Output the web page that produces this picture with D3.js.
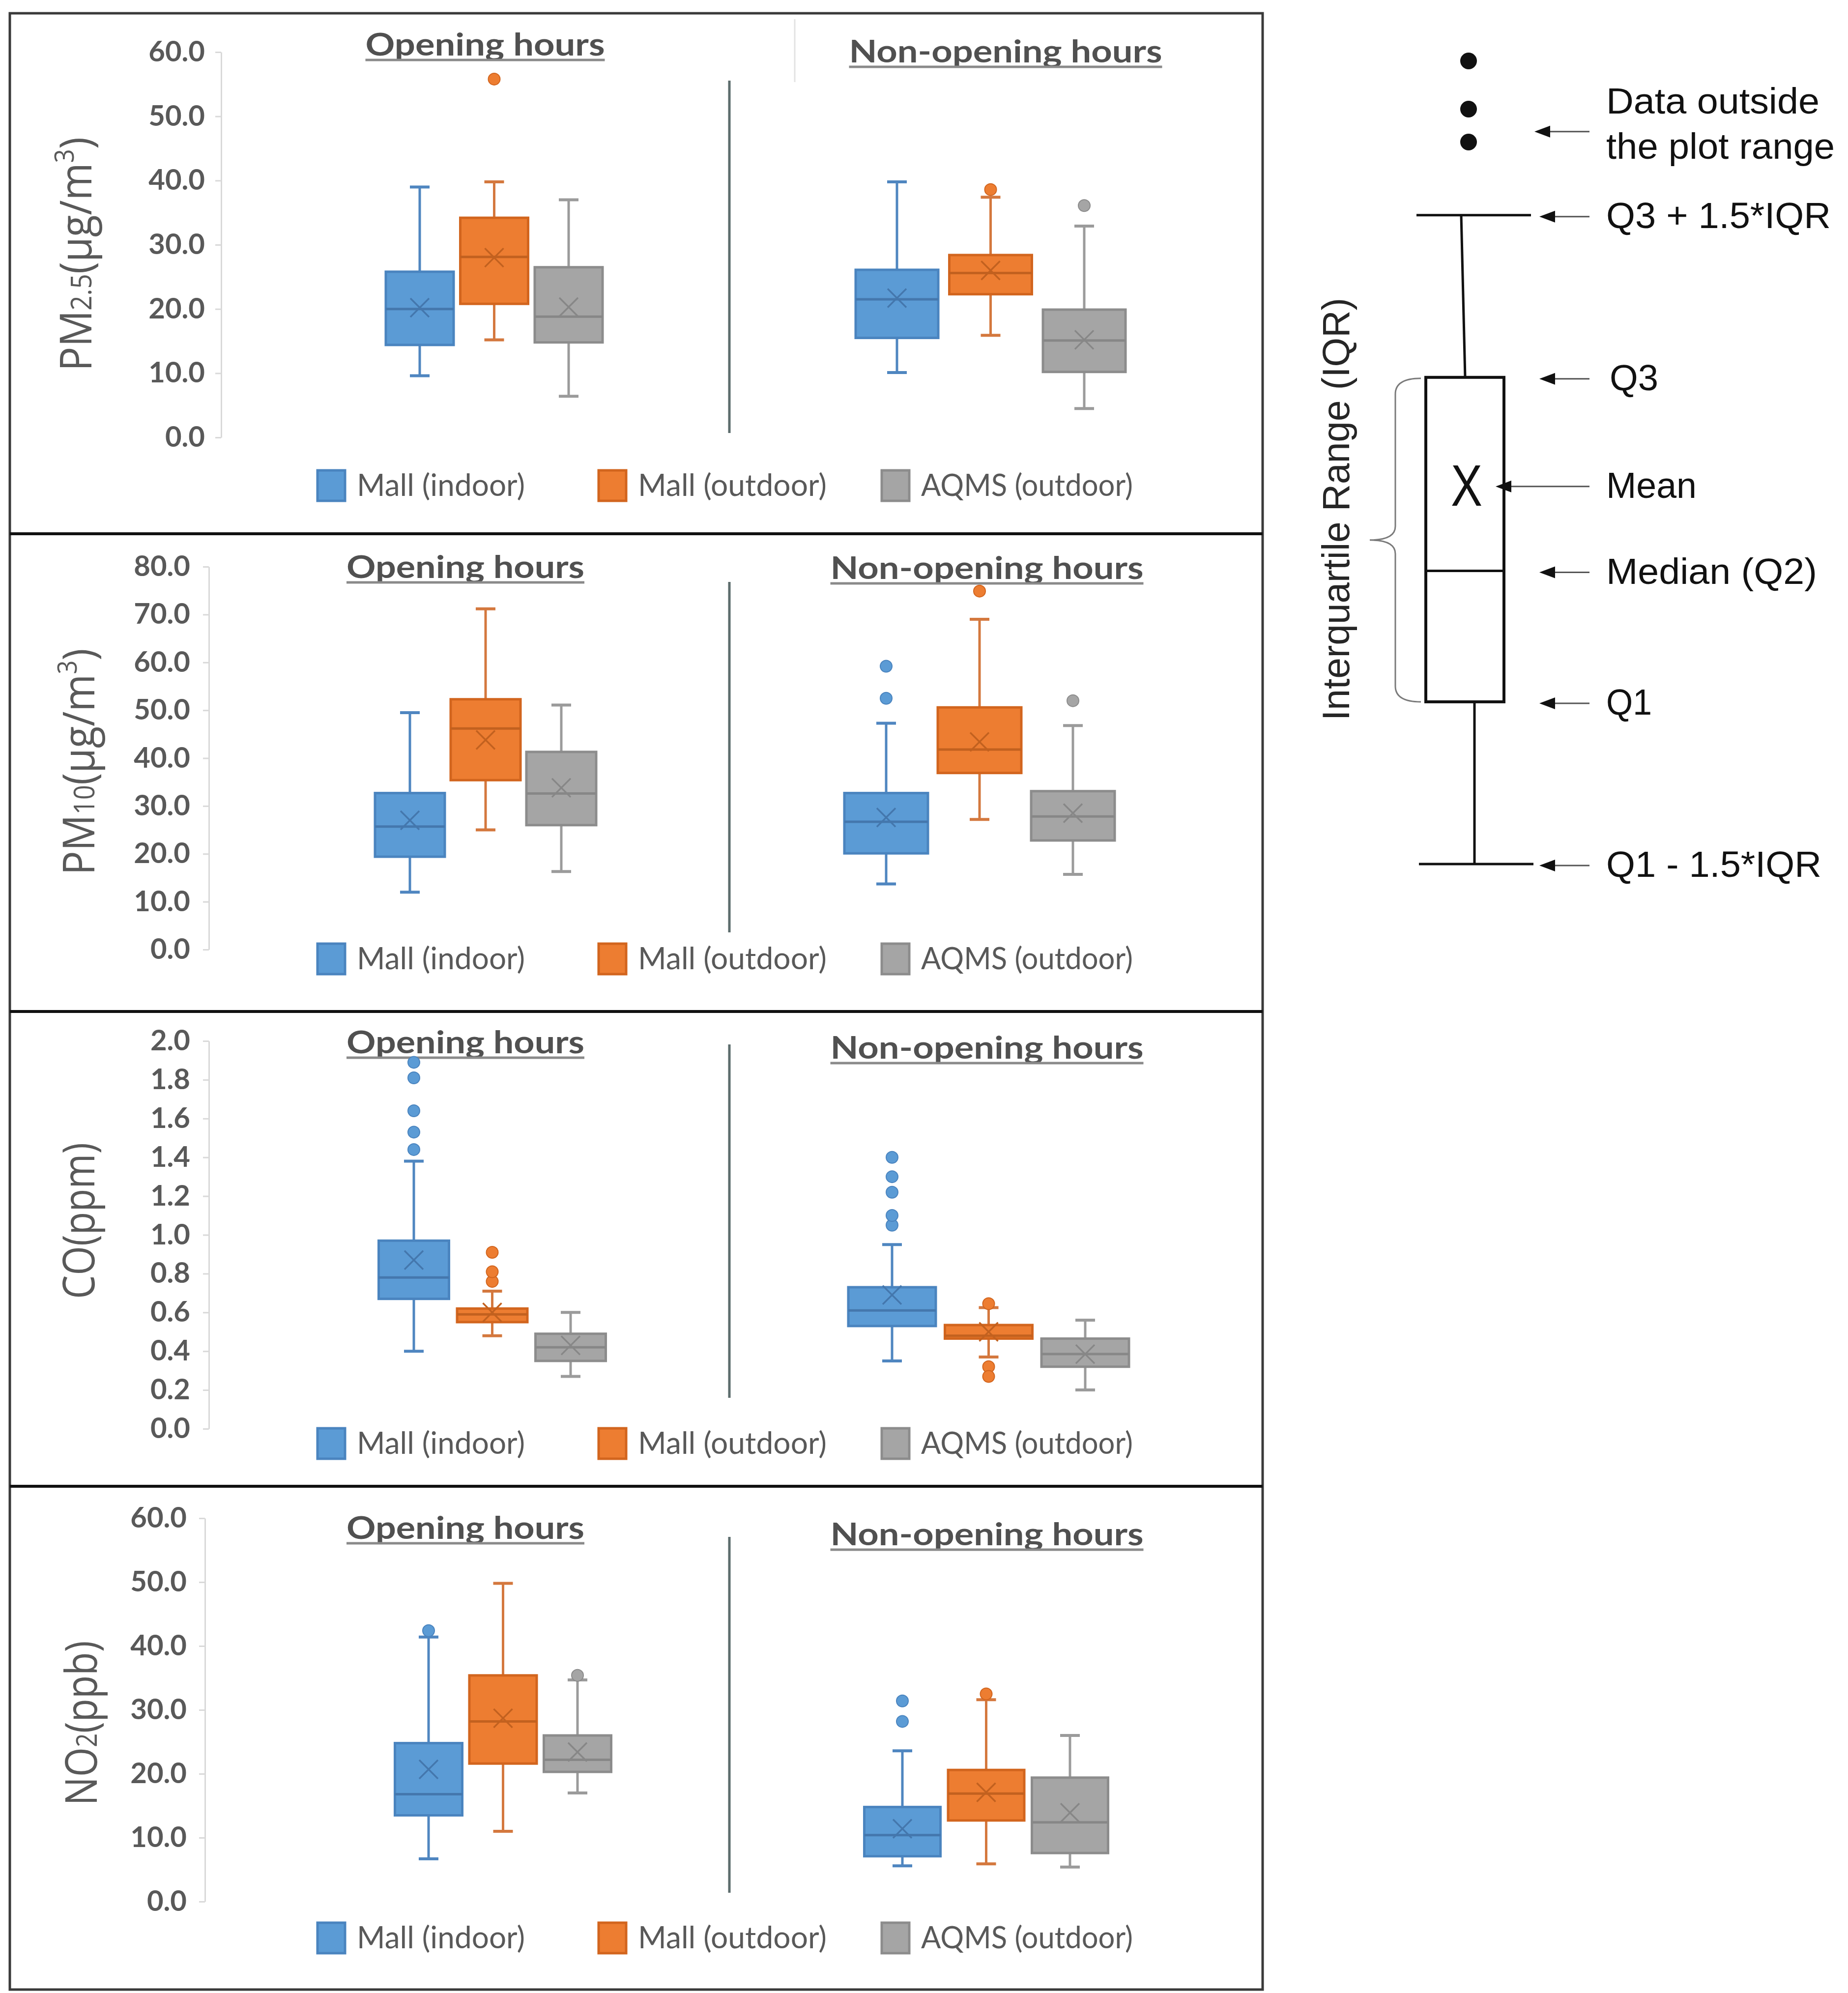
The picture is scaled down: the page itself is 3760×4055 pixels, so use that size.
<!DOCTYPE html>
<html>
<head>
<meta charset="utf-8">
<script src="https://cdnjs.cloudflare.com/ajax/libs/d3/7.8.5/d3.min.js"></script>
<style>
  body { margin: 0; background: #fff; }
  svg { display: block; }
</style>
</head>
<body>
<svg id="chart"></svg>
<script>
var series = ["Mall (indoor)", "Mall (outdoor)", "AQMS (outdoor)"]
var periods = ["Opening hours", "Non-opening hours"]

// each row: [low whisker, Q1, median, Q3, high whisker, mean]
// rows 0-2 opening hours, rows 3-5 non-opening hours, in series order
var pm25Ticks = [0, 10, 20, 30, 40, 50, 60]
var pm25Stats = [
  [9.6, 14.4, 20.0, 25.8, 39.0, 20.2],
  [15.2, 20.8, 28.1, 34.2, 39.8, 28.0],
  [6.4, 14.8, 18.8, 26.5, 37.0, 20.3],
  [10.1, 15.5, 21.5, 26.1, 39.8, 21.7],
  [15.9, 22.3, 25.6, 28.4, 37.4, 26.0],
  [4.5, 10.2, 15.1, 19.9, 32.9, 15.2]
]
var pm25Outliers = [[], [55.8], [], [], [38.6], [36.1]]

var pm10Ticks = [0, 10, 20, 30, 40, 50, 60, 70, 80]
var pm10Stats = [
  [12.0, 19.4, 25.7, 32.7, 49.5, 27.0],
  [25.0, 35.4, 46.2, 52.3, 71.2, 43.8],
  [16.3, 26.0, 32.6, 41.3, 51.1, 33.8],
  [13.7, 20.1, 26.7, 32.7, 47.3, 27.6],
  [27.2, 36.9, 41.8, 50.6, 69.0, 43.4],
  [15.7, 22.8, 27.8, 33.1, 46.8, 28.5]
]
var pm10Outliers = [[], [], [], [52.5, 59.2], [74.9], [52.0]]

var coTicks = [0, 0.2, 0.4, 0.6, 0.8, 1.0, 1.2, 1.4, 1.6, 1.8, 2.0]
var coStats = [
  [0.40, 0.67, 0.78, 0.97, 1.38, 0.87],
  [0.48, 0.55, 0.59, 0.62, 0.71, 0.60],
  [0.27, 0.35, 0.42, 0.49, 0.60, 0.43],
  [0.35, 0.53, 0.61, 0.73, 0.95, 0.69],
  [0.37, 0.465, 0.48, 0.535, 0.625, 0.50],
  [0.20, 0.32, 0.385, 0.465, 0.56, 0.385]
]
var coOutliers = [
  [1.44, 1.53, 1.64, 1.81, 1.89],
  [0.76, 0.81, 0.91],
  [],
  [1.05, 1.10, 1.22, 1.30, 1.40],
  [0.645, 0.32, 0.27],
  []
]

var no2Ticks = [0, 10, 20, 30, 40, 50, 60]
var no2Stats = [
  [6.7, 13.5, 16.8, 24.8, 41.4, 20.7],
  [11.0, 21.6, 28.2, 35.4, 49.8, 28.7],
  [17.0, 20.3, 22.2, 26.0, 34.7, 23.4],
  [5.6, 7.1, 10.4, 14.8, 23.6, 11.4],
  [5.9, 12.7, 16.9, 20.6, 31.6, 17.1],
  [5.4, 7.6, 12.4, 19.4, 26.0, 13.9]
]
var no2Outliers = [[42.4], [], [35.4], [28.2, 31.4], [32.5], []]

// key diagram, schematic units
var keyLabels = ["Q1 - 1.5*IQR", "Q1", "Median (Q2)", "Mean", "Q3", "Q3 + 1.5*IQR"]
var keyValues = [0, 20.2, 36.5, 47.2, 60.6, 80.8]
var keyDots = [89.9, 94.0, 100]

var W = 3760, H = 4055
var fill   = ["#5B9BD5", "#ED7D31", "#A5A5A5"]
var edge   = ["#4A84BF", "#D2651E", "#8C8C8C"]
var whisk  = ["#4F86C0", "#D4783E", "#9B9B9B"]
var medcol = ["#4477AD", "#C2611F", "#878787"]

var svg = d3.select("#chart").attr("width", W).attr("height", H)

var panels = [
  { stats: pm25Stats, outliers: pm25Outliers, ticks: pm25Ticks, fmt: ".1f",
    yTop: 106, yBot: 890, axisX: 450, gap: 21,
    open: [854, 1157], openW: 138, non: [1825, 2206], nonW: 168,
    divider: [164, 881], titleX: [987, 2046], titleY: [113, 127], titleW: [487, 637],
    legendY: 988, label: [["PM", 0], ["2.5", 1], ["(μg/m", 0], ["3", 2], [")", 0]],
    labelX: 186, labelY: 517, labelLen: 476 },
  { stats: pm10Stats, outliers: pm10Outliers, ticks: pm10Ticks, fmt: ".1f",
    yTop: 1153, yBot: 1932, axisX: 425, gap: 26,
    open: [834, 1142], openW: 142, non: [1803, 2183], nonW: 170,
    divider: [1184, 1897], titleX: [947, 2008], titleY: [1176, 1178], titleW: [484, 637],
    legendY: 1951, label: [["PM", 0], ["10", 1], ["(μg/m", 0], ["3", 2], [")", 0]],
    labelX: 192, labelY: 1550, labelLen: 461 },
  { stats: coStats, outliers: coOutliers, ticks: coTicks, fmt: ".1f",
    yTop: 2118, yBot: 2907, axisX: 425, gap: 26,
    open: [842, 1161], openW: 143, non: [1815, 2208], nonW: 178,
    divider: [2125, 2844], titleX: [947, 2008], titleY: [2143, 2154], titleW: [484, 637],
    legendY: 2937, label: [["CO(ppm)", 0]],
    labelX: 192, labelY: 2484, labelLen: 318 },
  { stats: no2Stats, outliers: no2Outliers, ticks: no2Ticks, fmt: ".1f",
    yTop: 3089, yBot: 3869, axisX: 417, gap: 25,
    open: [872, 1175], openW: 137, non: [1836, 2177], nonW: 155,
    divider: [3127, 3851], titleX: [947, 2008], titleY: [3131, 3144], titleW: [484, 637],
    legendY: 3943, label: [["NO", 0], ["2", 1], ["(ppb)", 0]],
    labelX: 197, labelY: 3506, labelLen: 335 }
]

panels.forEach(drawPanel)
drawFrame()
drawKey()

function drawPanel(p) {
  var y = d3.scaleLinear()
    .domain([p.ticks[0], p.ticks[p.ticks.length - 1]])
    .range([p.yBot, p.yTop])
  var xs = [
    d3.scalePoint().domain(series).range(p.open),
    d3.scalePoint().domain(series).range(p.non)
  ]
  var widths = [p.openW, p.nonW]

  var g = svg.append("g")

  // y axis
  var ga = g.append("g")
    .attr("transform", "translate(" + p.axisX + ",0)")
    .call(d3.axisLeft(y).tickValues(p.ticks).tickFormat(d3.format(p.fmt))
      .tickSize(12).tickSizeOuter(0).tickPadding(p.gap))
  ga.select(".domain").attr("stroke", "#d9d9d9").attr("stroke-width", 3)
  ga.selectAll(".tick line").attr("stroke", "#d9d9d9").attr("stroke-width", 3)
  ga.selectAll(".tick text")
    .attr("font-family", "Lato").attr("font-weight", 700)
    .attr("font-size", 58).attr("fill", "#595959")

  // y label
  var lab = g.append("text")
    .attr("transform", "translate(" + p.labelX + "," + p.labelY + ") rotate(-90)")
    .attr("text-anchor", "middle")
    .attr("font-family", "Open Sans").attr("font-size", 90)
    .attr("fill", "#595959")
    .attr("textLength", p.labelLen).attr("lengthAdjust", "spacingAndGlyphs")
  p.label.forEach(function (part) {
    var t = lab.append("tspan").text(part[0])
    if (part[1] == 1) t.attr("font-size", 58)
    if (part[1] == 2) t.attr("font-size", 54).attr("dy", -36)
    if (part[1] == 0 && part[0] == ")") t.attr("dy", 36)
  })

  // titles
  periods.forEach(function (name, i) {
    g.append("text")
      .attr("x", p.titleX[i]).attr("y", p.titleY[i])
      .attr("text-anchor", "middle")
      .attr("font-family", "Lato").attr("font-weight", 700)
      .attr("font-size", 64).attr("fill", "#505050")
      .attr("textLength", p.titleW[i]).attr("lengthAdjust", "spacingAndGlyphs")
      .text(name)
    g.append("line")
      .attr("x1", p.titleX[i] - p.titleW[i] / 2).attr("x2", p.titleX[i] + p.titleW[i] / 2)
      .attr("y1", p.titleY[i] + 9).attr("y2", p.titleY[i] + 9)
      .attr("stroke", "#8a8a8a").attr("stroke-width", 5)
  })

  // divider between periods
  g.append("line")
    .attr("x1", 1484).attr("x2", 1484)
    .attr("y1", p.divider[0]).attr("y2", p.divider[1])
    .attr("stroke", "#5d6d6d").attr("stroke-width", 5)

  var boxes = p.stats.map(function (s, i) {
    var per = i < 3 ? 0 : 1, k = i % 3
    return { per: per, k: k, cx: xs[per](series[k]), w: widths[per],
      low: s[0], q1: s[1], med: s[2], q3: s[3], high: s[4], mean: s[5],
      out: p.outliers[i] }
  })

  var b = g.selectAll(".box").data(boxes).enter().append("g").attr("class", "box")

  b.append("line")
    .attr("x1", function (d) { return d.cx }).attr("x2", function (d) { return d.cx })
    .attr("y1", function (d) { return y(d.low) }).attr("y2", function (d) { return y(d.high) })
    .attr("stroke", function (d) { return whisk[d.k] }).attr("stroke-width", 5)
  b.selectAll(".cap").data(function (d) { return [d, d] }).enter().append("line")
    .attr("x1", function (d) { return d.cx - 20 }).attr("x2", function (d) { return d.cx + 20 })
    .attr("y1", function (d, j) { return y(j ? d.high : d.low) })
    .attr("y2", function (d, j) { return y(j ? d.high : d.low) })
    .attr("stroke", function (d) { return whisk[d.k] }).attr("stroke-width", 6)
  b.append("rect")
    .attr("x", function (d) { return d.cx - d.w / 2 })
    .attr("width", function (d) { return d.w })
    .attr("y", function (d) { return y(d.q3) })
    .attr("height", function (d) { return y(d.q1) - y(d.q3) })
    .attr("fill", function (d) { return fill[d.k] })
    .attr("stroke", function (d) { return edge[d.k] }).attr("stroke-width", 5)
  b.append("line")
    .attr("x1", function (d) { return d.cx - d.w / 2 }).attr("x2", function (d) { return d.cx + d.w / 2 })
    .attr("y1", function (d) { return y(d.med) }).attr("y2", function (d) { return y(d.med) })
    .attr("stroke", function (d) { return medcol[d.k] }).attr("stroke-width", 5)
  b.append("path")
    .attr("d", function (d) {
      var cy = y(d.mean), r = 19
      return "M" + (d.cx - r) + "," + (cy - r) + "L" + (d.cx + r) + "," + (cy + r) +
        "M" + (d.cx - r) + "," + (cy + r) + "L" + (d.cx + r) + "," + (cy - r)
    })
    .attr("stroke", function (d) { return medcol[d.k] }).attr("stroke-width", 3.5)
    .attr("fill", "none")
  b.selectAll(".out").data(function (d) { return d.out.map(function (v) { return { v: v, d: d } }) })
    .enter().append("circle")
    .attr("cx", function (o) { return o.d.cx })
    .attr("cy", function (o) { return y(o.v) })
    .attr("r", 12)
    .attr("fill", function (o) { return fill[o.d.k] })
    .attr("stroke", function (o) { return edge[o.d.k] }).attr("stroke-width", 2)

  // legend
  var legX = d3.scaleOrdinal().domain(series).range([646, 1218, 1794])
  var legW = [342, 384, 431]
  var lg = g.selectAll(".leg").data(series).enter().append("g")
    .attr("transform", function (s) { return "translate(" + legX(s) + "," + p.legendY + ")" })
  lg.append("rect")
    .attr("x", 0).attr("y", -31).attr("width", 56).attr("height", 62)
    .attr("fill", function (s, i) { return fill[i] })
    .attr("stroke", function (s, i) { return edge[i] }).attr("stroke-width", 5)
  lg.append("text")
    .attr("x", 80).attr("y", 21)
    .attr("font-family", "Lato").attr("font-size", 62).attr("fill", "#595959")
    .attr("textLength", function (s, i) { return legW[i] }).attr("lengthAdjust", "spacingAndGlyphs")
    .text(function (s) { return s })
}

function drawFrame() {
  svg.append("rect")
    .attr("x", 20).attr("y", 27).attr("width", 2549).attr("height", 4021)
    .attr("fill", "none").attr("stroke", "#3a3a3a").attr("stroke-width", 5)
  ;[1086, 2058, 3024].forEach(function (yy) {
    svg.append("line").attr("x1", 20).attr("x2", 2569).attr("y1", yy).attr("y2", yy)
      .attr("stroke", "#111").attr("stroke-width", 6)
  })
  // faint leftover line near the first panel title
  svg.append("line").attr("x1", 1617).attr("x2", 1617).attr("y1", 39).attr("y2", 167)
    .attr("stroke", "#e3e3e3").attr("stroke-width", 3)
}

function drawKey() {
  var ky = d3.scaleLinear().domain([0, 100]).range([1758, 124])
  var g = svg.append("g")
  var ink = "#111"

  g.selectAll(".kdot").data(keyDots).enter().append("circle")
    .attr("cx", 2988).attr("cy", function (v) { return ky(v) }).attr("r", 17).attr("fill", ink)

  // whiskers and caps
  g.append("line").attr("x1", 2973).attr("x2", 2981).attr("y1", ky(keyValues[5])).attr("y2", ky(keyValues[4]))
    .attr("stroke", ink).attr("stroke-width", 5)
  g.append("line").attr("x1", 2882).attr("x2", 3115).attr("y1", ky(keyValues[5])).attr("y2", ky(keyValues[5]))
    .attr("stroke", ink).attr("stroke-width", 5)
  g.append("line").attr("x1", 3000).attr("x2", 3000).attr("y1", ky(keyValues[1])).attr("y2", ky(keyValues[0]))
    .attr("stroke", ink).attr("stroke-width", 5)
  g.append("line").attr("x1", 2887).attr("x2", 3120).attr("y1", ky(keyValues[0])).attr("y2", ky(keyValues[0]))
    .attr("stroke", ink).attr("stroke-width", 5)
  // box
  g.append("rect").attr("x", 2901).attr("width", 159)
    .attr("y", ky(keyValues[4])).attr("height", ky(keyValues[1]) - ky(keyValues[4]))
    .attr("fill", "#fff").attr("stroke", ink).attr("stroke-width", 6)
  g.append("line").attr("x1", 2901).attr("x2", 3060).attr("y1", ky(keyValues[2])).attr("y2", ky(keyValues[2]))
    .attr("stroke", ink).attr("stroke-width", 5)
  g.append("text").attr("x", 2984).attr("y", ky(keyValues[3]) + 42)
    .attr("text-anchor", "middle").attr("font-family", "Liberation Sans").attr("font-size", 118)
    .attr("textLength", 64).attr("lengthAdjust", "spacingAndGlyphs")
    .attr("fill", ink).text("X")

  // brace
  var t = ky(keyValues[4]) + 2, bt = ky(keyValues[1]), mid = (t + bt) / 2
  g.append("path")
    .attr("d", "M2891," + t + " Q2839," + t + " 2839," + (t + 32) +
      " L2839," + (mid - 28) + " Q2839," + mid + " 2787," + mid +
      " Q2839," + mid + " 2839," + (mid + 28) +
      " L2839," + (bt - 32) + " Q2839," + bt + " 2891," + bt)
    .attr("fill", "none").attr("stroke", "#7a7a7a").attr("stroke-width", 3)

  g.append("text")
    .attr("transform", "translate(2745,1036) rotate(-90)")
    .attr("text-anchor", "middle").attr("font-family", "Liberation Sans").attr("font-size", 77)
    .attr("textLength", 860).attr("lengthAdjust", "spacingAndGlyphs")
    .attr("fill", "#262626").text("Interquartile Range (IQR)")

  // arrows and labels
  var labW = [438, 93, 429, 184, 99, 457]
  var arrows = keyLabels.map(function (l, i) {
    return { y: ky(keyValues[i]) + 3, tip: i == 3 ? 3043 : 3132,
      lines: [l], w: [labW[i]], tx: i == 4 ? 3275 : 3268, off: 23 }
  })
  arrows.push({ y: ky(91.2), tip: 3122, lines: ["Data outside", "the plot range"],
    w: [434, 465], tx: 3268, off: 9 })

  var ag = g.selectAll(".arr").data(arrows).enter().append("g")
  ag.append("line").attr("x1", 3234).attr("x2", function (a) { return a.tip + 28 })
    .attr("y1", function (a) { return a.y }).attr("y2", function (a) { return a.y })
    .attr("stroke", "#555").attr("stroke-width", 3)
  ag.append("path")
    .attr("d", function (a) {
      return "M" + a.tip + "," + a.y + "L" + (a.tip + 32) + "," + (a.y - 12) +
        "L" + (a.tip + 32) + "," + (a.y + 12) + "Z"
    })
    .attr("fill", ink)
  ag.each(function (a) {
    var n = a.lines.length
    a.lines.forEach(function (line, j) {
      d3.select(this).append("text")
        .attr("x", a.tx).attr("y", a.y + a.off + (j - (n - 1) / 2) * 92)
        .attr("font-family", "Liberation Sans").attr("font-size", 74)
        .attr("textLength", a.w[j]).attr("lengthAdjust", "spacingAndGlyphs")
        .attr("fill", ink).text(line)
    }, this)
  })
}
</script>
</body>
</html>
